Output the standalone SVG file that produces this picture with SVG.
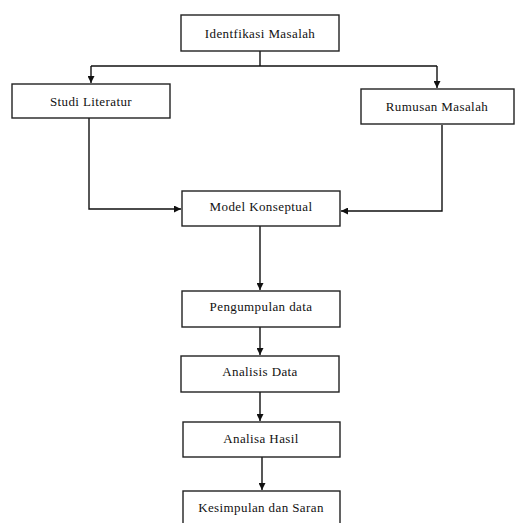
<svg xmlns="http://www.w3.org/2000/svg" width="515" height="523" viewBox="0 0 515 523">
<style>
.box{fill:#fff;stroke:#222;stroke-width:1.4}
.t{font-family:"Liberation Serif","Times New Roman",serif;font-size:13px;fill:#111;text-anchor:middle;dominant-baseline:central;letter-spacing:0.4px}
.c{fill:none;stroke:#111;stroke-width:1.4}
</style>
<defs>
<marker id="ah" viewBox="0 0 10 10" refX="10" refY="5" markerWidth="7" markerHeight="7" markerUnits="userSpaceOnUse" orient="auto">
<path d="M0,0 L10,5 L0,10 z" fill="#111"/>
</marker>
</defs>
<rect width="515" height="523" fill="#fff"/>
<g id="connectors">
<path class="c" d="M260,51 V66"/>
<path class="c" d="M91,66 H437"/>
<path class="c" d="M91,66 V83" marker-end="url(#ah)"/>
<path class="c" d="M437,66 V88" marker-end="url(#ah)"/>
<path class="c" d="M89,118 V209 H181" marker-end="url(#ah)"/>
<path class="c" d="M442,125 V211 H341" marker-end="url(#ah)"/>
<path class="c" d="M260,226 V290" marker-end="url(#ah)"/>
<path class="c" d="M260,327 V355" marker-end="url(#ah)"/>
<path class="c" d="M260,392 V421" marker-end="url(#ah)"/>
<path class="c" d="M262,457 V490" marker-end="url(#ah)"/>
</g>
<g id="identifikasi"><rect class="box" x="181" y="15" width="158" height="36"/><text class="t" x="260" y="33">Identfikasi Masalah</text></g>
<g id="studi"><rect class="box" x="12" y="84" width="158" height="34"/><text class="t" x="91" y="101">Studi Literatur</text></g>
<g id="rumusan"><rect class="box" x="361" y="89" width="153" height="35"/><text class="t" x="437" y="106">Rumusan Masalah</text></g>
<g id="model"><rect class="box" x="182" y="191" width="158" height="35"/><text class="t" x="261" y="206">Model Konseptual</text></g>
<g id="pengumpulan"><rect class="box" x="182" y="291" width="158" height="36"/><text class="t" x="261" y="306">Pengumpulan data</text></g>
<g id="analisis"><rect class="box" x="181" y="356" width="158" height="36"/><text class="t" x="260" y="371">Analisis Data</text></g>
<g id="analisa"><rect class="box" x="183" y="422" width="157" height="35"/><text class="t" x="261" y="438">Analisa Hasil</text></g>
<g id="kesimpulan"><rect class="box" x="183" y="491" width="157" height="40"/><text class="t" x="261" y="507">Kesimpulan dan Saran</text></g>
</svg>
